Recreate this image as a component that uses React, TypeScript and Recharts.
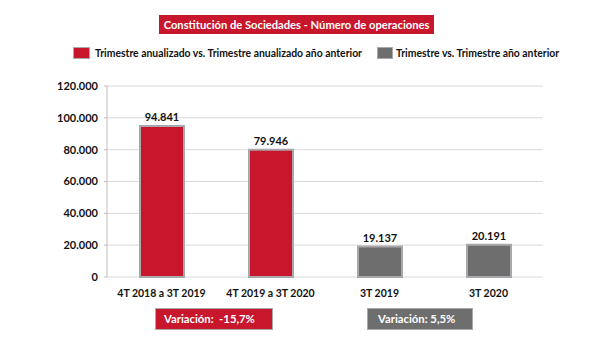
import React from 'react';
import { BarChart, Bar, XAxis, YAxis, CartesianGrid, Legend, LabelList } from 'recharts';

const categories = ['4T 2018 a 3T 2019', '4T 2019 a 3T 2020', '3T 2019', '3T 2020'];
const annualValues: (number | null)[] = [94841, 79946, null, null];
const quarterValues: (number | null)[] = [null, null, 19137, 20191];
const yTicks = [0, 20000, 40000, 60000, 80000, 100000, 120000];
const boundaryTicks = [0, 1, 2, 3, 4];
const seriesNames = [
  'Trimestre anualizado vs. Trimestre anualizado año anterior',
  'Trimestre vs. Trimestre año anterior',
];
const titleText = 'Constitución de Sociedades - Número de operaciones';
const variationTexts = ['Variación:  -15,7%', 'Variación: 5,5%'];

const RED = '#c8162c';
const GRAY = '#6e6e6e';
const BORDER = '#a9a9ad';
const FONT = 'Lato, "Open Sans", sans-serif';

const data = categories.map((name, i) => ({
  name,
  idx: i + 0.5,
  anual: annualValues[i],
  trim: quarterValues[i],
}));

const fmt = (v: any) => {
  if (v == null || v === '') return '';
  return String(Math.round(Number(v))).replace(/\B(?=(\d{3})+(?!\d))/g, '.');
};

const LegendContent = () => (
  <div style={{ display: 'flex', justifyContent: 'flex-start', alignItems: 'center', fontFamily: FONT, fontWeight: 700, fontSize: 10.4, color: '#111', paddingLeft: 73 }}>
    <span style={{ display: 'inline-block', width: 17, height: 12, background: RED, border: `1px solid ${BORDER}`, boxSizing: 'border-box', marginRight: 5 }} />
    <span style={{ marginRight: 15 }}>{seriesNames[0]}</span>
    <span style={{ display: 'inline-block', width: 16, height: 12, background: GRAY, border: `1px solid ${BORDER}`, boxSizing: 'border-box', marginRight: 3 }} />
    <span>{seriesNames[1]}</span>
  </div>
);

export default function App() {
  return (
    <div style={{ position: 'fixed', left: 0, top: 0, width: 612, height: 344, background: '#fff' }}>
      <div style={{ position: 'absolute', left: 159, top: 15, width: 275, height: 19, background: RED, color: '#fff', fontFamily: FONT, fontWeight: 700, fontSize: 11.2, lineHeight: '19px', textAlign: 'center', whiteSpace: 'nowrap' }}>
        {titleText}
      </div>
      <BarChart width={612} height={344} data={data} margin={{ top: 86, right: 69, bottom: 37, left: 47 }}>
        <CartesianGrid horizontal vertical={false} stroke="#d9d9d9" strokeWidth={1} />
        <XAxis xAxisId="bounds" type="number" dataKey="idx" domain={[0, 4]} ticks={boundaryTicks} tick={false} height={0} axisLine={{ stroke: '#bfbfbf' }} tickLine={{ stroke: '#bfbfbf' }} tickSize={5} allowDataOverflow />
        <XAxis dataKey="name" axisLine={false} tickLine={false} tickMargin={7} height={30} interval={0}
          tick={{ fontFamily: FONT, fontWeight: 700, fontSize: 10.5, fill: '#111' }} />
        <YAxis domain={[0, 120000]} ticks={yTicks} width={60} tickFormatter={fmt} axisLine={{ stroke: '#bfbfbf' }} tickLine={{ stroke: '#bfbfbf' }} tickSize={3} tickMargin={6}
          tick={{ fontFamily: FONT, fontWeight: 700, fontSize: 11, fill: '#111' }} />
        <Legend layout="horizontal" verticalAlign="middle" align="center" wrapperStyle={{ top: 47, left: 0, width: 612 }} content={<LegendContent />} />
        <Bar dataKey="anual" name={seriesNames[0]} stackId="a" fill={RED} stroke={BORDER} strokeWidth={2} barSize={44} isAnimationActive={false}>
          <LabelList dataKey="anual" position="top" offset={5} formatter={fmt} style={{ fontFamily: FONT, fontWeight: 700, fontSize: 11, fill: '#111' }} />
        </Bar>
        <Bar dataKey="trim" name={seriesNames[1]} stackId="a" fill={GRAY} stroke={BORDER} strokeWidth={2} barSize={44} isAnimationActive={false}>
          <LabelList dataKey="trim" position="top" offset={5} formatter={fmt} style={{ fontFamily: FONT, fontWeight: 700, fontSize: 11, fill: '#111' }} />
        </Bar>
      </BarChart>
      <div style={{ position: 'absolute', left: 155, top: 308, width: 118, height: 22, background: RED, border: `1px solid ${BORDER}`, boxSizing: 'border-box', color: '#fff', fontFamily: FONT, fontWeight: 700, fontSize: 11.3, lineHeight: '20px', paddingLeft: 8, whiteSpace: 'pre' }}>
        {variationTexts[0]}
      </div>
      <div style={{ position: 'absolute', left: 367, top: 308, width: 106, height: 22, background: GRAY, border: `1px solid ${BORDER}`, boxSizing: 'border-box', color: '#fff', fontFamily: FONT, fontWeight: 700, fontSize: 11.3, lineHeight: '20px', paddingLeft: 10, whiteSpace: 'pre' }}>
        {variationTexts[1]}
      </div>
    </div>
  );
}
